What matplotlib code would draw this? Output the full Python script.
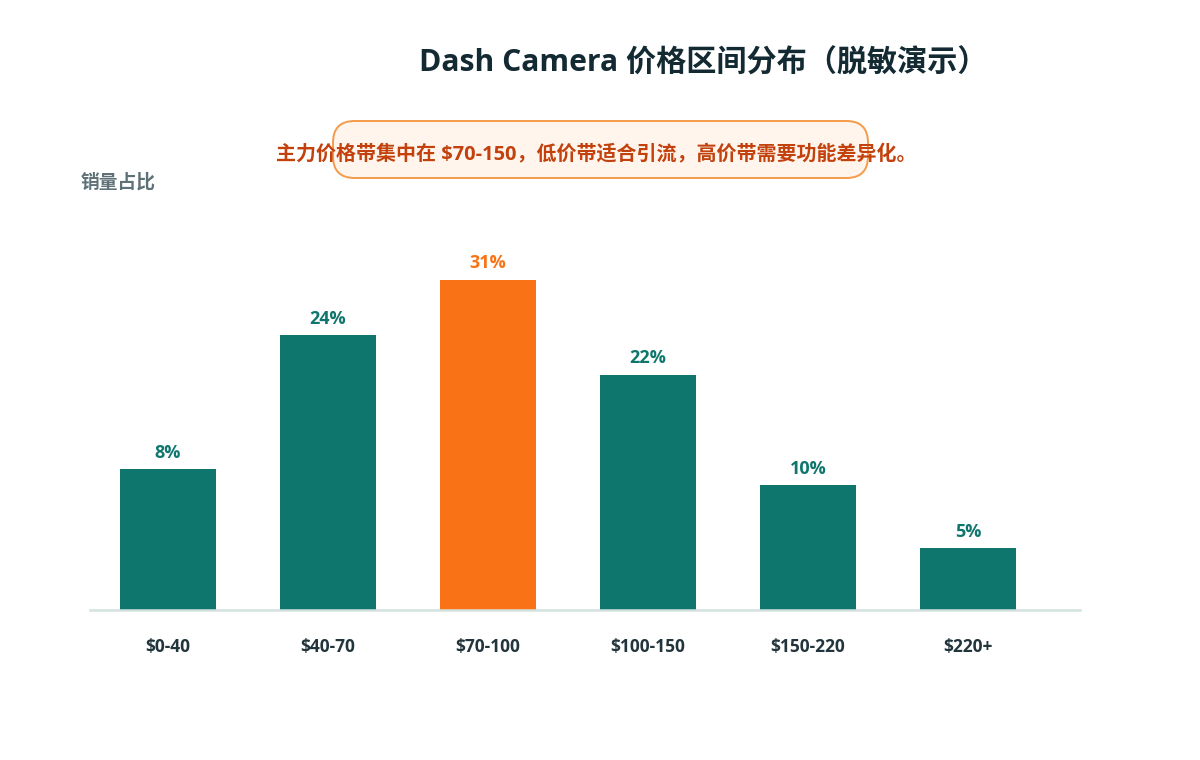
"""Dash Camera price-band share chart — writes out.png."""

import matplotlib.pyplot as plt
from matplotlib.patches import FancyBboxPatch

# price bands and the share label printed above each bar
price_bands = ["$0-40", "$40-70", "$70-100", "$100-150", "$150-220", "$220+"]
share_labels = ["8%", "24%", "31%", "22%", "10%", "5%"]
# bar heights as drawn in the reference (same units as the 31% bar)
bar_height = [13.2, 25.8, 31.0, 22.1, 11.7, 5.8]
highlight = "$70-100"

TEAL = "#0f766e"
ORANGE = "#f97316"

plt.rcParams["font.family"] = ["Open Sans", "Noto Sans CJK SC", "DejaVu Sans"]

W, H = 1200, 760
fig = plt.figure(figsize=(W / 100, H / 100), dpi=100)
fig.patch.set_facecolor("white")

# plot area: x 90..1080 px, y 210..610 px (from top)
ax = fig.add_axes([90 / W, (H - 610) / H, 990 / W, 400 / H])
x = list(range(len(price_bands)))
colors = [ORANGE if b == highlight else TEAL for b in price_bands]
ax.bar(x, bar_height, width=0.6, color=colors, zorder=2)
ax.set_xlim(-0.4875, 5.7)
ax.set_ylim(0, 400 / (330 / 31))

for xi, h, lab, c in zip(x, bar_height, share_labels, colors):
    ax.annotate(lab, (xi, h), xytext=(0, 5.5), textcoords="offset points",
                ha="center", va="bottom", fontsize=13, fontweight="bold", color=c)

for s in ("top", "right", "left"):
    ax.spines[s].set_visible(False)
ax.spines["bottom"].set_color("#d3e3df")
ax.spines["bottom"].set_linewidth(1.8)
ax.set_yticks([])
ax.set_xticks(x)
ax.set_xticklabels(price_bands, fontsize=12.5, fontweight="bold", color="#22343c")
ax.tick_params(axis="x", length=0, pad=20)

fig.text(703 / W, 1 - 64 / H, "Dash Camera 价格区间分布（脱敏演示）",
         ha="center", va="center", fontsize=21.7, fontweight="bold", color="#132a33")

fig.text(81 / W, 1 - 183 / H, "销量占比", ha="left", va="center",
         fontsize=13.5, fontweight="bold", color="#5f7178")

box = FancyBboxPatch((333 / W, 1 - 178 / H), 535 / W, 57 / H,
                     boxstyle="round,pad=0,rounding_size=0.018",
                     transform=fig.transFigure, facecolor="#fff5ec",
                     edgecolor="#f59a4a", linewidth=1.4, mutation_aspect=W / H)
fig.add_artist(box)
fig.text(596 / W, 1 - 155 / H, "主力价格带集中在 $70-150，低价带适合引流，高价带需要功能差异化。",
         ha="center", va="center", fontsize=14.4, fontweight="bold", color="#c2410c")

fig.savefig("out.png", dpi=100, facecolor="white")
